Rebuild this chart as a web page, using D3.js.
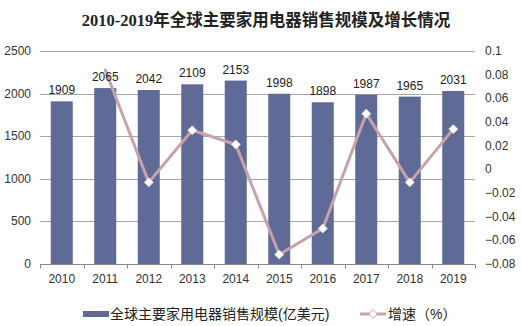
<!DOCTYPE html>
<html>
<head>
<meta charset="utf-8">
<script src="https://cdn.jsdelivr.net/npm/d3@7"></script>
<style>
  html, body { margin: 0; padding: 0; background: #fff; }
  svg { display: block; }
  text { font-family: "Liberation Sans", Arial, "Noto Sans CJK SC", sans-serif; }
</style>
</head>
<body>
<svg id="chart" width="521" height="326"></svg>
<script>
// Global household appliance sales (100M USD) and year-on-year growth
const years = ["2010", "2011", "2012", "2013", "2014", "2015", "2016", "2017", "2018", "2019"];
const sales = [1909, 2065, 2042, 2109, 2153, 1998, 1898, 1987, 1965, 2031];
const growth = [null, 0.084, -0.011, 0.033, 0.021, -0.072, -0.050, 0.047, -0.011, 0.034];
const leftTicks = [0, 500, 1000, 1500, 2000, 2500];
const rightTicks = [-0.08, -0.06, -0.04, -0.02, 0, 0.02, 0.04, 0.06, 0.08, 0.1];
const titleText = "2010-2019年全球主要家用电器销售规模及增长情况";
const barLegend = "全球主要家用电器销售规模(亿美元)";
const lineLegend = "增速（%）";

const svg = d3.select("#chart");
const m = { left: 40, right: 46, top: 51, bottom: 62 };
const W = 521, H = 326;

const x = d3.scaleBand().domain(years).range([m.left, W - m.right]).paddingInner(0).paddingOuter(0);
const yL = d3.scaleLinear().domain([0, 2500]).range([H - m.bottom, m.top]);
const yR = d3.scaleLinear().domain([-0.08, 0.1]).range([H - m.bottom, m.top]);

const barColor = "#5f6a96";
const lineColor = "#c8a2ab";

// Title
svg.append("text")
  .attr("x", 266).attr("y", 26)
  .attr("text-anchor", "middle")
  .style("font-family", "'Liberation Serif', 'Noto Sans CJK SC', serif")
  .style("font-weight", "bold")
  .style("font-size", "16.5px")
  .attr("fill", "#222")
  .text(titleText);

// Horizontal gridlines
svg.append("g")
  .selectAll("line")
  .data(leftTicks.filter(d => d > 0))
  .join("line")
  .attr("x1", m.left).attr("x2", W - m.right)
  .attr("y1", d => Math.round(yL(d)) + 0.5).attr("y2", d => Math.round(yL(d)) + 0.5)
  .attr("stroke", "#a6a6a6").attr("stroke-width", 1);

// Bars
const bw = 22;
svg.append("g")
  .selectAll("rect")
  .data(years)
  .join("rect")
  .attr("x", (d) => x(d) + x.bandwidth() / 2 - bw / 2)
  .attr("width", bw)
  .attr("y", (d, i) => yL(sales[i]))
  .attr("height", (d, i) => yL(0) - yL(sales[i]))
  .attr("fill", barColor);

// Bottom axis
const xAxis = svg.append("g")
  .attr("transform", `translate(0,${Math.round(yL(0)) + 0.5})`);
xAxis.append("line")
  .attr("x1", m.left).attr("x2", W - m.right)
  .attr("stroke", "#888");
xAxis.selectAll("line.tick")
  .data(d3.range(years.length + 1))
  .join("line")
  .attr("class", "tick")
  .attr("x1", i => Math.round(m.left + i * x.step()) + 0.5)
  .attr("x2", i => Math.round(m.left + i * x.step()) + 0.5)
  .attr("y1", 0).attr("y2", 4)
  .attr("stroke", "#888");
xAxis.selectAll("text")
  .data(years)
  .join("text")
  .attr("x", d => x(d) + x.bandwidth() / 2)
  .attr("y", 18)
  .attr("text-anchor", "middle")
  .style("font-size", "12px")
  .attr("fill", "#333")
  .text(d => d);

// Left axis labels
svg.append("g")
  .selectAll("text")
  .data(leftTicks)
  .join("text")
  .attr("x", 31)
  .attr("y", d => yL(d) + 4)
  .attr("text-anchor", "end")
  .style("font-size", "12px")
  .attr("fill", "#333")
  .text(d => d);

// Right axis labels
svg.append("g")
  .selectAll("text")
  .data(rightTicks)
  .join("text")
  .attr("x", 485)
  .attr("y", d => yR(d) + 4)
  .attr("text-anchor", "start")
  .style("font-size", "12px")
  .attr("fill", "#333")
  .text(d => d3.format("~g")(+d.toFixed(2)));

// Growth line
const pts = years.map((d, i) => ({ year: d, v: growth[i] })).filter(p => p.v !== null);
const line = d3.line()
  .x(p => x(p.year) + x.bandwidth() / 2)
  .y(p => yR(p.v));
svg.append("path")
  .datum(pts)
  .attr("d", line)
  .attr("fill", "none")
  .attr("stroke", lineColor)
  .attr("stroke-width", 3)
  .attr("stroke-linejoin", "round")
  .attr("stroke-linecap", "round");

const diamond = d3.symbol().type(d3.symbolDiamond2).size(50);
svg.append("g")
  .selectAll("path")
  .data(pts.filter(p => p.year !== "2011"))
  .join("path")
  .attr("transform", p => `translate(${x(p.year) + x.bandwidth() / 2},${yR(p.v)})`)
  .attr("d", diamond)
  .attr("fill", "#fff")
  .attr("stroke", "#e8dde0")
  .attr("stroke-width", 1);

// Bar value labels
svg.append("g")
  .selectAll("text")
  .data(years)
  .join("text")
  .attr("x", d => x(d) + x.bandwidth() / 2)
  .attr("y", (d, i) => yL(sales[i]) - 7)
  .attr("text-anchor", "middle")
  .style("font-size", "12px")
  .attr("fill", "#222")
  .text((d, i) => sales[i]);

// Legend
const lg = svg.append("g");
lg.append("rect")
  .attr("x", 83).attr("y", 311).attr("width", 26).attr("height", 6)
  .attr("fill", barColor);
lg.append("text")
  .attr("x", 110).attr("y", 319)
  .style("font-size", "14px")
  .attr("fill", "#222")
  .text(barLegend);
lg.append("line")
  .attr("x1", 360).attr("x2", 386).attr("y1", 314).attr("y2", 314)
  .attr("stroke", lineColor).attr("stroke-width", 3);
lg.append("path")
  .attr("transform", "translate(373,314)")
  .attr("d", diamond)
  .attr("fill", "#fff")
  .attr("stroke", lineColor)
  .attr("stroke-width", 1);
lg.append("text")
  .attr("x", 388).attr("y", 319)
  .style("font-size", "14px")
  .attr("fill", "#222")
  .text(lineLegend);
</script>
</body>
</html>
